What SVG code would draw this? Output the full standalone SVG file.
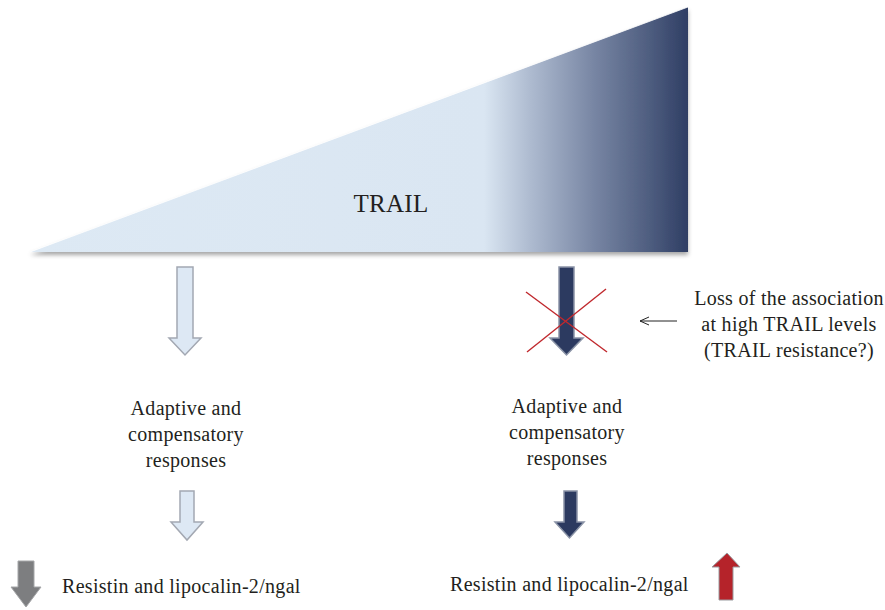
<svg xmlns="http://www.w3.org/2000/svg" width="885" height="610" viewBox="0 0 885 610">
<defs>
<linearGradient id="tg" gradientUnits="userSpaceOnUse" x1="30" y1="0" x2="688" y2="0">
<stop offset="0" stop-color="#dde9f4"/>
<stop offset="0.69" stop-color="#dae6f2"/>
<stop offset="0.76" stop-color="#aebbd0"/>
<stop offset="0.86" stop-color="#7684a2"/>
<stop offset="0.94" stop-color="#4f5e80"/>
<stop offset="1" stop-color="#2f3e64"/>
</linearGradient>
<filter id="sh" x="-5%" y="-5%" width="110%" height="115%">
<feDropShadow dx="0" dy="3" stdDeviation="2" flood-color="#000" flood-opacity="0.35"/>
</filter>
<marker id="oh" markerWidth="12" markerHeight="10" refX="10" refY="5" orient="auto" markerUnits="userSpaceOnUse">
<path d="M1,1 L10,5 L1,9" fill="none" stroke="#222" stroke-width="1"/>
</marker>
</defs>
<style>
text{font-family:"Liberation Serif","Times New Roman",serif;fill:#231f20;letter-spacing:0.3px;}
.lbl{font-size:20px;text-anchor:middle;}
.light{fill:#dde8f4;stroke:#a3a8b2;stroke-width:1.5;}
.dark{fill:#2c3a60;stroke:#8a93a6;stroke-width:1.5;}
.grey{fill:#7d7e80;stroke:#a5a6a8;stroke-width:1;}
.red{fill:#b5232a;stroke:#9a9ca0;stroke-width:1;}
</style>
<rect width="885" height="610" fill="#fff"/>
<g id="triangle">
<polygon points="30,252 688,7 688,252" fill="url(#tg)" filter="url(#sh)"/>
<line x1="30" y1="252" x2="688" y2="7" stroke="#fff" stroke-width="1" opacity="0.8"/>
<text x="391" y="212" font-size="25" text-anchor="middle" font-family="Liberation Serif, serif">TRAIL</text>
</g>
<g id="left-arrow-1">
<polygon class="light" points="177,267 193,267 193,338 201,338 185,355 169,338 177,338"/>
</g>
<g id="right-arrow-1">
<polygon class="dark" points="559,267 574,267 574,338 583,338 566.5,355 550,338 559,338"/>
</g>
<g id="cross">
<line x1="526" y1="292" x2="607" y2="352" stroke="#c0282d" stroke-width="1.4"/>
<line x1="527" y1="352" x2="606" y2="289" stroke="#c0282d" stroke-width="1.4"/>
</g>
<g id="note" font-family="Liberation Serif, serif">
<text class="lbl" x="789" y="305">Loss of the association</text>
<text class="lbl" x="789" y="331">at high TRAIL levels</text>
<text class="lbl" x="789" y="357">(TRAIL resistance?)</text>
</g>
<g id="connectors">
<line x1="677" y1="321" x2="640" y2="321" stroke="#222" stroke-width="1" marker-end="url(#oh)"/>
</g>
<g id="left-text">
<text class="lbl" x="186" y="415">Adaptive and</text>
<text class="lbl" x="186" y="441">compensatory</text>
<text class="lbl" x="186" y="467">responses</text>
</g>
<g id="right-text">
<text class="lbl" x="567" y="413">Adaptive and</text>
<text class="lbl" x="567" y="439">compensatory</text>
<text class="lbl" x="567" y="465">responses</text>
</g>
<g id="left-arrow-2">
<polygon class="light" points="180,491 194,491 194,522 203,522 187,540 171,522 180,522"/>
</g>
<g id="right-arrow-2">
<polygon class="dark" points="564,491 577,491 577,522 584,522 569.5,538 555,522 564,522"/>
</g>
<g id="grey-down">
<polygon class="grey" points="18,561 34,561 34,587 41,587 26,607 11,587 18,587"/>
</g>
<g id="left-result">
<text x="62" y="593" font-size="20">Resistin and lipocalin-2/ngal</text>
</g>
<g id="right-result">
<text x="450" y="591" font-size="20">Resistin and lipocalin-2/ngal</text>
</g>
<g id="red-up">
<polygon class="red" points="727,553 740,567 733,567 733,600 719,600 719,567 712,567"/>
</g>
</svg>
